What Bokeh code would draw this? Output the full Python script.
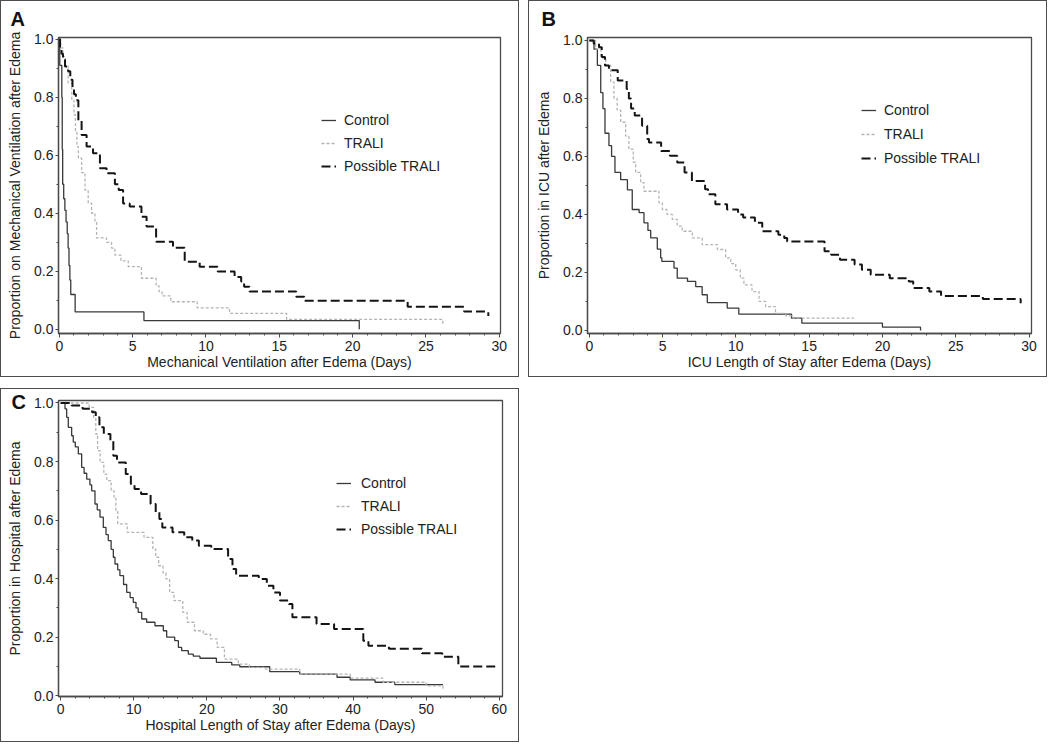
from bokeh.plotting import figure
from bokeh.layouts import column, row
from bokeh.models import SingleIntervalTicker, NumeralTickFormatter, Range1d, Title
from bokeh.embed import file_html
from bokeh.resources import INLINE

FONT = "Liberation Sans"
TEXT = "#222222"
AXC = "#4a4a4a"

groups = ["Control", "TRALI", "Possible TRALI"]

# ---------------- Panel A: mechanical ventilation ----------------
a_control_days = [0, 0.03, 0.17, 0.20, 0.23, 0.30, 0.38, 0.46, 0.54, 0.60, 0.66, 0.72, 0.78, 1.08, 5.77, 20.45]
a_control_prop = [1.0, 0.91, 0.80, 0.62, 0.50, 0.45, 0.41, 0.37, 0.33, 0.28, 0.22, 0.17, 0.12, 0.06, 0.03, 0.0]

a_trali_days = [0, 0.1, 0.25, 0.4, 0.6, 0.85, 1.0, 1.1, 1.2, 1.3, 1.52, 1.75, 1.97, 2.2, 2.43, 2.54, 3.22,
                3.56, 3.79, 4.2, 4.7, 5.6, 6.6, 6.8, 7.0, 7.6, 9.4, 11.6, 15.5, 26.15]
a_trali_prop = [1.0, 0.97, 0.94, 0.91, 0.85, 0.79, 0.74, 0.68, 0.63, 0.59, 0.54, 0.48, 0.435, 0.40, 0.37, 0.315, 0.30,
                0.28, 0.256, 0.236, 0.216, 0.176, 0.15, 0.13, 0.115, 0.095, 0.074, 0.055, 0.034, 0.015]

a_possible_days = [0, 0.05, 0.15, 0.25, 0.39, 0.6, 0.75, 0.9, 1.0, 1.13, 1.3, 1.52, 1.86, 2.3, 2.77, 3.22, 3.79, 4.05,
                   4.35, 4.8, 5.6, 5.95, 6.6, 7.75, 8.55, 9.57, 10.8, 11.95, 12.4, 12.6, 12.97, 16.15, 16.7, 23.75,
                   27.6, 29.25]
a_possible_prop = [1.0, 0.97, 0.95, 0.93, 0.906, 0.89, 0.86, 0.83, 0.81, 0.79, 0.72, 0.67, 0.63, 0.607, 0.555, 0.538,
                   0.50, 0.48, 0.434, 0.423, 0.388, 0.354, 0.302, 0.281, 0.233, 0.216, 0.199, 0.18, 0.165, 0.147,
                   0.13, 0.112, 0.098, 0.078, 0.061, 0.046]

# ---------------- Panel B: ICU length of stay ----------------
b_control_days = [0, 0.32, 0.55, 0.78, 0.93, 1.07, 1.34, 1.52, 1.75, 2.14, 2.6, 2.93, 3.4, 3.73, 4.0, 4.19, 4.64,
                  4.87, 4.95, 5.78, 6.0, 6.7, 7.26, 7.7, 8.05, 9.41, 10.2, 13.8, 14.5, 20.0, 22.6]
b_control_prop = [1.0, 0.97, 0.914, 0.82, 0.765, 0.68, 0.637, 0.60, 0.545, 0.52, 0.485, 0.417, 0.406, 0.371, 0.345,
                  0.319, 0.28, 0.25, 0.238, 0.215, 0.18, 0.169, 0.151, 0.123, 0.096, 0.077, 0.056, 0.042, 0.025,
                  0.011, 0.0]

b_trali_days = [0, 0.43, 0.8, 1.12, 1.46, 1.68, 1.9, 2.14, 2.48, 2.7, 3.0, 3.16, 3.5, 3.73, 4.75, 4.98, 5.3, 5.66,
                6.0, 6.34, 7.03, 7.7, 8.73, 9.3, 9.65, 9.99, 10.3, 10.55, 11.1, 11.58, 12.03, 12.7, 13.4, 13.9, 18.06]
b_trali_prop = [1.0, 0.97, 0.94, 0.914, 0.857, 0.8, 0.76, 0.718, 0.67, 0.625, 0.58, 0.545, 0.51, 0.48, 0.44, 0.417,
                0.40, 0.383, 0.36, 0.342, 0.319, 0.296, 0.279, 0.25, 0.23, 0.209, 0.18, 0.157, 0.134, 0.1, 0.082,
                0.059, 0.05, 0.042, 0.042]

b_possible_days = [0, 0.3, 0.66, 0.85, 1.07, 1.34, 1.94, 2.55, 2.7, 2.85, 3.1, 3.6, 3.95, 4.07, 4.9, 5.5, 6.0, 6.5,
                   7.0, 7.9, 8.1, 8.6, 9.4, 10.15, 10.5, 11.3, 11.8, 12.9, 13.3, 13.5, 16.05, 16.5, 17.1, 18.1,
                   18.6, 19.2, 20.5, 21.8, 22.1, 23.2, 24.0, 26.85, 29.43]
b_possible_prop = [1.0, 0.99, 0.977, 0.943, 0.914, 0.897, 0.862, 0.833, 0.8, 0.765, 0.741, 0.706, 0.66, 0.648,
                   0.619, 0.602, 0.579, 0.545, 0.515, 0.487, 0.47, 0.435, 0.417, 0.40, 0.389, 0.371, 0.342, 0.33,
                   0.319, 0.307, 0.273, 0.261, 0.244, 0.227, 0.209, 0.192, 0.18, 0.169, 0.146, 0.134, 0.119,
                   0.108, 0.094]

# ---------------- Panel C: hospital length of stay ----------------
c_control_days = [0, 0.59, 0.82, 1.04, 1.5, 1.72, 2.0, 2.41, 2.87, 3.2, 3.56, 4.0, 4.24, 4.69, 5.0, 5.38, 5.83, 6.2,
                  6.51, 6.9, 7.2, 7.43, 7.8, 8.1, 8.6, 9.03, 9.5, 9.93, 10.3, 10.6, 11.08, 11.76, 12.9, 14.04, 14.5,
                  15.6, 16.1, 16.55, 17.46, 18.14, 19.05, 21.3, 23.4, 24.5, 28.6, 32.7, 37.8, 39.6, 43.0, 45.7, 52.3]
c_control_prop = [1.0, 0.98, 0.951, 0.917, 0.888, 0.866, 0.85, 0.826, 0.78, 0.76, 0.74, 0.72, 0.70, 0.655, 0.635,
                  0.61, 0.575, 0.55, 0.53, 0.50, 0.473, 0.45, 0.43, 0.41, 0.38, 0.353, 0.335, 0.319, 0.30, 0.285,
                  0.262, 0.251, 0.239, 0.222, 0.20, 0.188, 0.165, 0.154, 0.142, 0.135, 0.128, 0.114, 0.105, 0.099,
                  0.082, 0.074, 0.063, 0.054, 0.046, 0.038, 0.038]

c_trali_days = [0, 3.9, 4.5, 4.8, 5.05, 5.4, 5.9, 6.3, 6.9, 7.3, 7.55, 7.8, 9.1, 11.4, 12.6, 13.0, 13.4, 14.0, 14.4,
                14.9, 15.5, 16.7, 17.3, 18.3, 19.5, 20.5, 21.4, 22.4, 24.3, 25.8, 28.0, 32.7, 39.6, 44.1, 50.0, 52.3]
c_trali_prop = [1.0, 0.985, 0.951, 0.894, 0.837, 0.797, 0.757, 0.735, 0.70, 0.678, 0.632, 0.587, 0.558, 0.541,
                0.501, 0.473, 0.444, 0.42, 0.399, 0.353, 0.325, 0.285, 0.251, 0.222, 0.21, 0.194, 0.165, 0.125,
                0.108, 0.097, 0.091, 0.074, 0.06, 0.046, 0.034, 0.023]

c_possible_days = [0, 1.5, 3.0, 4.3, 4.8, 5.3, 5.9, 6.8, 7.2, 7.7, 8.9, 9.6, 10.1, 11.0, 12.3, 13.0, 13.5, 13.9, 15.3,
                   16.9, 18.0, 18.9, 20.6, 22.9, 23.5, 24.0, 27.1, 28.2, 29.1, 30.0, 31.2, 31.7, 35.0, 37.4, 41.4,
                   42.1, 44.9, 49.4, 52.2, 54.4, 59.6]
c_possible_prop = [1.0, 0.991, 0.98, 0.968, 0.951, 0.917, 0.894, 0.871, 0.82, 0.797, 0.757, 0.723, 0.706, 0.689,
                   0.655, 0.627, 0.604, 0.575, 0.558, 0.541, 0.53, 0.512, 0.501, 0.467, 0.433, 0.41, 0.399, 0.376,
                   0.353, 0.325, 0.313, 0.268, 0.245, 0.228, 0.188, 0.171, 0.16, 0.145, 0.133, 0.1, 0.091]

STYLE = {
    "Control": dict(line_color="#3a3a3a", line_width=1.3, line_dash="solid"),
    "TRALI": dict(line_color="#b4b4b4", line_width=1.3, line_dash="3 2"),
    "Possible TRALI": dict(line_color="#141414", line_width=2.0, line_dash="9 4"),
}


def make_panel(letter, letter_offset, letter_valign, letter_standoff, xlabel, ylabel, xr, yr, x_int,
               series, width, height, borders, legend_loc, standoff):
    left, right, top, bottom = borders
    p = figure(width=width, height=height, x_range=Range1d(*xr), y_range=Range1d(*yr),
               output_backend="svg", toolbar_location=None,
               min_border_left=left, min_border_right=right, min_border_top=top, min_border_bottom=bottom,
               background_fill_color="white", border_fill_color="white")
    p.title = Title(text=letter, align="left", offset=letter_offset, vertical_align=letter_valign,
                    standoff=letter_standoff, text_font=FONT, text_font_size="20px",
                    text_font_style="bold", text_color="#111111")
    p.xgrid.visible = False
    p.ygrid.visible = False
    p.outline_line_color = AXC
    p.outline_line_width = 1.3

    p.xaxis.ticker = SingleIntervalTicker(interval=x_int, num_minor_ticks=5)
    p.yaxis.ticker = SingleIntervalTicker(interval=0.2, num_minor_ticks=2)
    p.yaxis.formatter = NumeralTickFormatter(format="0.0")
    for ax in (p.xaxis[0], p.yaxis[0]):
        ax.axis_line_color = AXC
        ax.axis_line_width = 1.3
        ax.major_tick_line_color = AXC
        ax.minor_tick_line_color = AXC
        ax.major_tick_in = 0
        ax.minor_tick_in = 0
        ax.minor_tick_out = 2
        ax.major_label_text_font = FONT
        ax.major_label_text_font_size = "14px"
        ax.major_label_text_color = TEXT
        ax.axis_label_text_font = FONT
        ax.axis_label_text_font_size = "14px"
        ax.axis_label_text_font_style = "normal"
        ax.axis_label_text_color = TEXT
    p.xaxis.major_tick_out = 4
    p.yaxis.major_tick_out = 3
    p.xaxis.axis_label = xlabel
    p.yaxis.axis_label = ylabel
    p.xaxis.major_label_standoff = 3
    p.yaxis.major_label_standoff = 2
    p.xaxis.axis_label_standoff = 0
    p.yaxis.axis_label_standoff = 8

    for name, (days, prop) in zip(groups, series):
        p.step(days, prop, mode="after", legend_label=name, **STYLE[name])

    lg = p.legend[0]
    lg.location = legend_loc
    lg.border_line_color = None
    lg.background_fill_alpha = 0
    lg.padding = 0
    lg.margin = 0
    lg.spacing = 3
    lg.glyph_width = 15
    lg.glyph_height = 20
    lg.label_height = 20
    lg.label_standoff = standoff
    lg.label_text_font = FONT
    lg.label_text_font_size = "14px"
    lg.label_text_color = TEXT
    return p


pA = make_panel("A", -48, "top", 12, "Mechanical Ventilation after Edema (Days)",
                "Proportion on Mechanical Ventilation after Edema",
                (-0.055, 30.08), (-0.0145, 1.006), 5,
                [(a_control_days, a_control_prop), (a_trali_days, a_trali_prop),
                 (a_possible_days, a_possible_prop)],
                517, 375, (57, 18, 36, 43), (263, 157), 8)

pB = make_panel("B", -46, "top", 12, "ICU Length of Stay after Edema (Days)",
                "Proportion in ICU after Edema",
                (-0.123, 30.17), (-0.0107, 1.0103), 5,
                [(b_control_days, b_control_prop), (b_trali_days, b_trali_prop),
                 (b_possible_days, b_possible_prop)],
                517, 375, (58, 15, 36, 43), (274, 165), 8)
pB.legend[0].spacing = 4

pC = make_panel("C", -47, "bottom", -24, "Hospital Length of Stay after Edema (Days)",
                "Proportion in Hospital after Edema",
                (-0.30, 60.44), (-0.0027, 1.0085), 10,
                [(c_control_days, c_control_prop), (c_trali_days, c_trali_prop),
                 (c_possible_days, c_possible_prop)],
                517, 352, (57, 16, 11, 45), (278, 157), 10)

BOX = {"border": "1.5px solid #4d4d4d"}
wrapA = column(pA, styles=BOX)
wrapB = column(pB, styles=BOX)
wrapC = column(pC, styles=BOX)

layout = column(row(wrapA, wrapB, spacing=9), wrapC, spacing=11)

with open("out.html", "w") as f:
    f.write(file_html(layout, INLINE))
